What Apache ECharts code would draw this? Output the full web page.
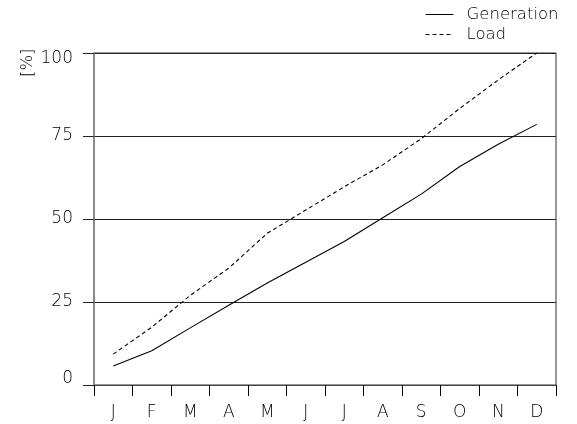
<!DOCTYPE html>
<html>
<head>
<meta charset="utf-8">
<script src="https://cdn.jsdelivr.net/npm/echarts@6/dist/echarts.min.js"></script>
<style>html,body{margin:0;padding:0;background:#fff}#c{width:577px;height:424px}</style>
</head>
<body>
<div id="c"></div>
<script>
var months = ['J','F','M','A','M','J','J','A','S','O','N','D'];
var generation = [5.7, 10.3, 17.2, 24.0, 30.7, 37.0, 43.2, 50.4, 57.5, 65.8, 72.5, 78.5];
var load = [9.3, 17.4, 27.0, 35.2, 45.7, 52.7, 59.7, 66.3, 74.2, 83.3, 91.9, 100];
var yTicks = [0, 25, 50, 75, 100];

var font = '"DejaVu Sans", "Liberation Sans", Arial, sans-serif';
var fw = 200;
var chart = echarts.init(document.getElementById('c'));
chart.setOption({
  animation: false,
  backgroundColor: '#fff',
  textStyle: {fontFamily: font, fontWeight: fw},
  grid: {left: 94, right: 21, top: 53, bottom: 39, show: true, borderColor: '#333', borderWidth: 1, backgroundColor: 'transparent'},
  legend: {
    orient: 'vertical', left: 420, top: 1, itemWidth: 28, itemHeight: 12, itemGap: 3,
    itemStyle: {opacity: 0},
    textStyle: {fontFamily: font, fontWeight: fw, fontSize: 16.5, color: '#000', padding: [0,0,0,8]},
    data: [
      {name: 'Generation', lineStyle: {width: 1, color: '#000', type: 'solid'}},
      {name: 'Load', lineStyle: {width: 1, color: '#000', type: [4,3]}}
    ]
  },
  graphic: [{
    type: 'text', x: 19, y: 77, rotation: Math.PI/2,
    style: {text: '[%]', font: fw + ' 16.5px ' + font, fill: '#000', textAlign: 'left', textVerticalAlign: 'top'}
  }],
  xAxis: {
    type: 'category', data: months, boundaryGap: true,
    axisLine: {lineStyle: {color: '#444', width: 1}},
    axisTick: {show: true, length: 11, lineStyle: {color: '#000'}},
    axisLabel: {fontSize: 17, color: '#000', margin: 19, fontFamily: font, fontWeight: fw},
    splitLine: {show: false}
  },
  yAxis: {
    type: 'value', min: yTicks[0], max: yTicks[yTicks.length-1], interval: 25,
    axisLine: {show: true, lineStyle: {color: '#888', width: 1.5}},
    axisTick: {show: true, length: 11, lineStyle: {color: '#222'}},
    axisLabel: {
      fontSize: 17, color: '#000', margin: 21, fontFamily: font, fontWeight: fw,
      formatter: function (v) {
        if (v === yTicks[yTicks.length-1]) return '{top|' + v + '}';
        if (v === yTicks[0]) return '{bot|' + v + '}';
        return String(v);
      },
      rich: {
        top: {fontSize: 17, fontFamily: font, fontWeight: fw, color: '#000', padding: [12,0,0,0]},
        bot: {fontSize: 17, fontFamily: font, fontWeight: fw, color: '#000', padding: [0,0,12,0]}
      }
    },
    splitLine: {show: true, lineStyle: {color: '#222', width: 1}}
  },
  series: [
    {name: 'Generation', type: 'line', data: generation, symbol: 'none', lineStyle: {color: '#000', width: 1.1}, itemStyle: {color: '#000'}},
    {name: 'Load', type: 'line', data: load, symbol: 'none', lineStyle: {color: '#000', width: 1.1, type: [4,3]}, itemStyle: {color: '#000'}}
  ]
});
</script>
</body>
</html>
